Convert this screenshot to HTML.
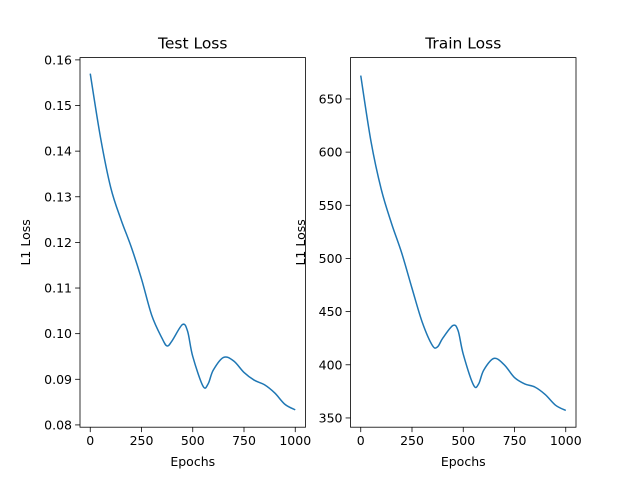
<!DOCTYPE html>
<html><head><meta charset="utf-8"><style>body{margin:0;background:#fff}svg{display:block}text{font-family:"DejaVu Sans","Liberation Sans",sans-serif;fill:#000}</style></head>
<body>
<svg id="fig" width="640" height="480"></svg>
<script>
const epochs=[0,50,100,150,200,250,300,350,375,400,450,475,500,550,575,600,650,700,750,800,850,900,950,1000];
const testLoss=[0.157,0.143,0.132,0.125,0.119,0.112,0.104,0.099,0.0973,0.0985,0.102,0.1005,0.095,0.0885,0.089,0.092,0.0948,0.094,0.0915,0.0898,0.0888,0.087,0.0845,0.0833];
const trainLoss=[672,610,565,533,505,472,440,418,417,425,437,432,410,381,382,395,406,400,388,382,379,372,362,357];
const xTicks=[0,250,500,750,1000];
const testTicks=[0.08,0.09,0.10,0.11,0.12,0.13,0.14,0.15,0.16];
const testTickLabels=["0.08","0.09","0.10","0.11","0.12","0.13","0.14","0.15","0.16"];
const trainTicks=[350,400,450,500,550,600,650];
const NS="http://www.w3.org/2000/svg";
const svg=document.getElementById('fig');
function mk(tag,attrs,parent){const e=document.createElementNS(NS,tag);for(const k in attrs)e.setAttribute(k,attrs[k]);(parent||svg).appendChild(e);return e;}
function panel(name,x0,x1,y0,y1,vmin,vmax,vals,ticks,labels,title,ylx){
  const g=mk('g',{});
  
  
  const xs=v=>x0+(v+50)/1100*(x1-x0);
  const ys=v=>y1-(v-vmin)/(vmax-vmin)*(y1-y0);
  const pts=epochs.map((e,i)=>[xs(e),ys(vals[i])]);
  let d='M'+pts[0][0]+','+pts[0][1];
  for(let i=0;i<pts.length-1;i++){
    const p0=pts[Math.max(0,i-1)],p1=pts[i],p2=pts[i+1],p3=pts[Math.min(pts.length-1,i+2)];
    d+=` C${p1[0]+(p2[0]-p0[0])/6},${p1[1]+(p2[1]-p0[1])/6} ${p2[0]-(p3[0]-p1[0])/6},${p2[1]-(p3[1]-p1[1])/6} ${p2[0]},${p2[1]}`;
  }
  const line=mk('path',{d:d,fill:'none',stroke:'#1f77b4','stroke-width':1.5},g);
  
  
  const fr=mk('rect',{x:x0,y:y0,width:x1-x0,height:y1-y0,fill:'none',stroke:'#000','stroke-width':0.8},g);
  
  
  xTicks.forEach(t=>{const x=xs(t);mk('line',{x1:x,x2:x,y1:y1,y2:y1+4.9,stroke:'#000','stroke-width':0.8},g);
    const tx=mk('text',{x:x,y:y1+18,'font-size':12.5,'text-anchor':'middle'},g);tx.textContent=t;
    
    });
  ticks.forEach((t,i)=>{const y=ys(t);mk('line',{x1:x0-4.9,x2:x0,y1:y,y2:y,stroke:'#000','stroke-width':0.8},g);
    const tx=mk('text',{x:x0-8,y:y+4.5,'font-size':12.5,'text-anchor':'end'},g);tx.textContent=labels?labels[i]:t;
    
    });
  const xl=mk('text',{x:(x0+x1)/2,y:y1+39,'font-size':12.5,'text-anchor':'middle'},g);xl.textContent='Epochs';
  
  
  const yl=mk('text',{x:0,y:0,'font-size':12.5,'text-anchor':'middle',transform:`translate(${ylx},${(y0+y1)/2}) rotate(-90)`},g);yl.textContent='L1 Loss';
  
  
  const ti=mk('text',{x:(x0+x1)/2,y:y0-9,'font-size':15.5,'text-anchor':'middle'},g);ti.textContent=title;
  
  
  return g;
}
panel('test-loss-panel',80,305.5,57.6,427.2,0.0795,0.1605,testLoss,testTicks,testTickLabels,'Test Loss',30);
panel('train-loss-panel',350.5,576,57.6,427.2,341.3,688.9,trainLoss,trainTicks,null,'Train Loss',305);
</script>
</body></html>
